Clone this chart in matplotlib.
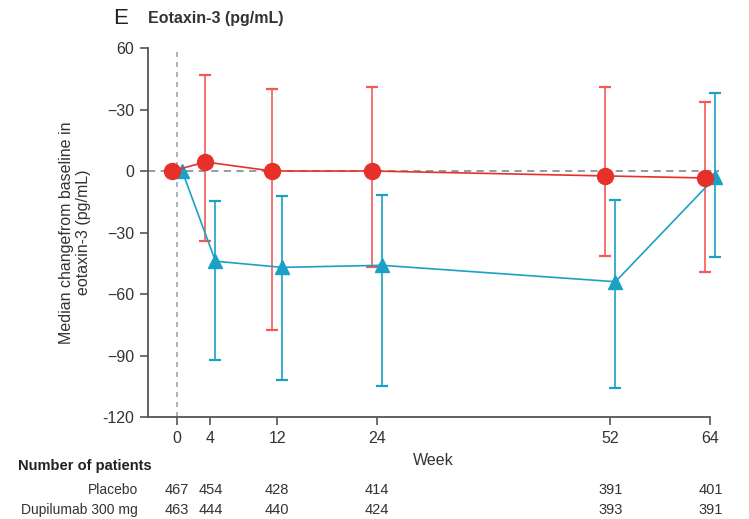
import matplotlib
matplotlib.use('Agg')
import matplotlib.pyplot as plt
import matplotlib.transforms as mtransforms
import numpy as np

plt.rcParams['font.family'] = ['Liberation Sans Narrow', 'Liberation Sans', 'DejaVu Sans']

weeks = [0, 4, 12, 24, 52, 64]

# placebo: median change and error bar ends
placebo_med = [0, 4.4, 0, 0, -2.4, -3.4]
placebo_hi = [0, 47, 40, 41, 41, 33.5]
placebo_lo = [0, -34, -77.5, -47, -41.5, -49.5]

# dupilumab 300 mg
dupi_med = [0, -44, -47, -46, -54, -3]
dupi_hi = [0, -14.5, -12, -11.5, -14, 38]
dupi_lo = [0, -92, -102, -105, -106, -42]

ytick_vals = [60, 30, 0, -30, -60, -90, -120]
ytick_labels = ['60', '\u221230', '0', '\u221230', '\u221260', '\u221290', '-120']

n_placebo = [467, 454, 428, 414, 391, 401]
n_dupi = [463, 444, 440, 424, 393, 391]

red = '#e8302a'
red_err = '#f25a55'
blue = '#1ba1c6'

fig = plt.figure(figsize=(7.49, 5.19), dpi=100)
ax = fig.add_axes([0.1976, 0.1965, 0.762, 0.711])

x = np.array(weeks, dtype=float)
xp = x - 0.6
xd = x + 0.6

ax.axhline(0, color='#8a9499', ls=(0, (4, 3)), lw=1.3, zorder=1)
ax.axvline(0, color='#9aa6ab', ls=(0, (3, 3)), lw=1.2, zorder=1)

p_err = [np.array(placebo_med) - np.array(placebo_lo), np.array(placebo_hi) - np.array(placebo_med)]
d_err = [np.array(dupi_med) - np.array(dupi_lo), np.array(dupi_hi) - np.array(dupi_med)]

ax.errorbar(xp[1:], placebo_med[1:], yerr=[p_err[0][1:], p_err[1][1:]], fmt='none',
            ecolor=red_err, elinewidth=1.2, capsize=4, capthick=1.6, zorder=2, clip_on=False)
ax.errorbar(xd[1:], dupi_med[1:], yerr=[d_err[0][1:], d_err[1][1:]], fmt='none',
            ecolor=blue, elinewidth=1.2, capsize=4, capthick=1.6, zorder=2, clip_on=False)

ax.plot(xp, placebo_med, color=red, lw=1.2, marker='o', ms=11.5, mec=red, mfc=red, zorder=4, clip_on=False)
ax.plot(xd, dupi_med, color=blue, lw=1.2, marker='^', ms=10.5, mec=blue, mfc=blue, zorder=3, clip_on=False)

ax.set_xlim(-3.5, 65)
ax.set_ylim(-120, 60)
ax.set_xticks(weeks)
ax.set_yticks(ytick_vals)
ax.set_yticklabels(ytick_labels)

for s in ['top', 'right']:
    ax.spines[s].set_visible(False)
ax.spines['bottom'].set_bounds(-3.5, 64)
for s in ['left', 'bottom']:
    ax.spines[s].set_color('#555555')
    ax.spines[s].set_linewidth(1.3)
ax.tick_params(axis='both', direction='out', length=6, width=1.2, color='#555555',
               labelsize=11.5, labelcolor='#333333', pad=4)

ax.set_xlabel('Week', fontsize=11.5, color='#333333', labelpad=5)
ax.set_ylabel('Median changefrom baseline in\neotaxin-3 (pg/mL)', fontsize=11.5, color='#333333', labelpad=8)

fig.text(113 / 749, 1 - 18 / 519, 'E', fontsize=16, color='#222222', va='center')
fig.text(148 / 749, 1 - 19 / 519, 'Eotaxin-3 (pg/mL)', fontsize=11.5, fontweight='bold', color='#333333', va='center')

fig.text(18 / 749, 1 - 466 / 519, 'Number of patients', fontsize=10.5, fontweight='bold', color='#222222', va='center')
fig.text(138 / 749, 1 - 490 / 519, 'Placebo', fontsize=10, color='#333333', va='center', ha='right')
fig.text(138 / 749, 1 - 510 / 519, 'Dupilumab 300 mg', fontsize=10, color='#333333', va='center', ha='right')

trans = mtransforms.blended_transform_factory(ax.transData, fig.transFigure)
for wk, n1, n2 in zip(weeks, n_placebo, n_dupi):
    ax.text(wk, 1 - 490 / 519, str(n1), transform=trans, ha='center', va='center',
            fontsize=10.5, color='#333333')
    ax.text(wk, 1 - 510 / 519, str(n2), transform=trans, ha='center', va='center',
            fontsize=10.5, color='#333333')

fig.savefig('out.png', dpi=100)
